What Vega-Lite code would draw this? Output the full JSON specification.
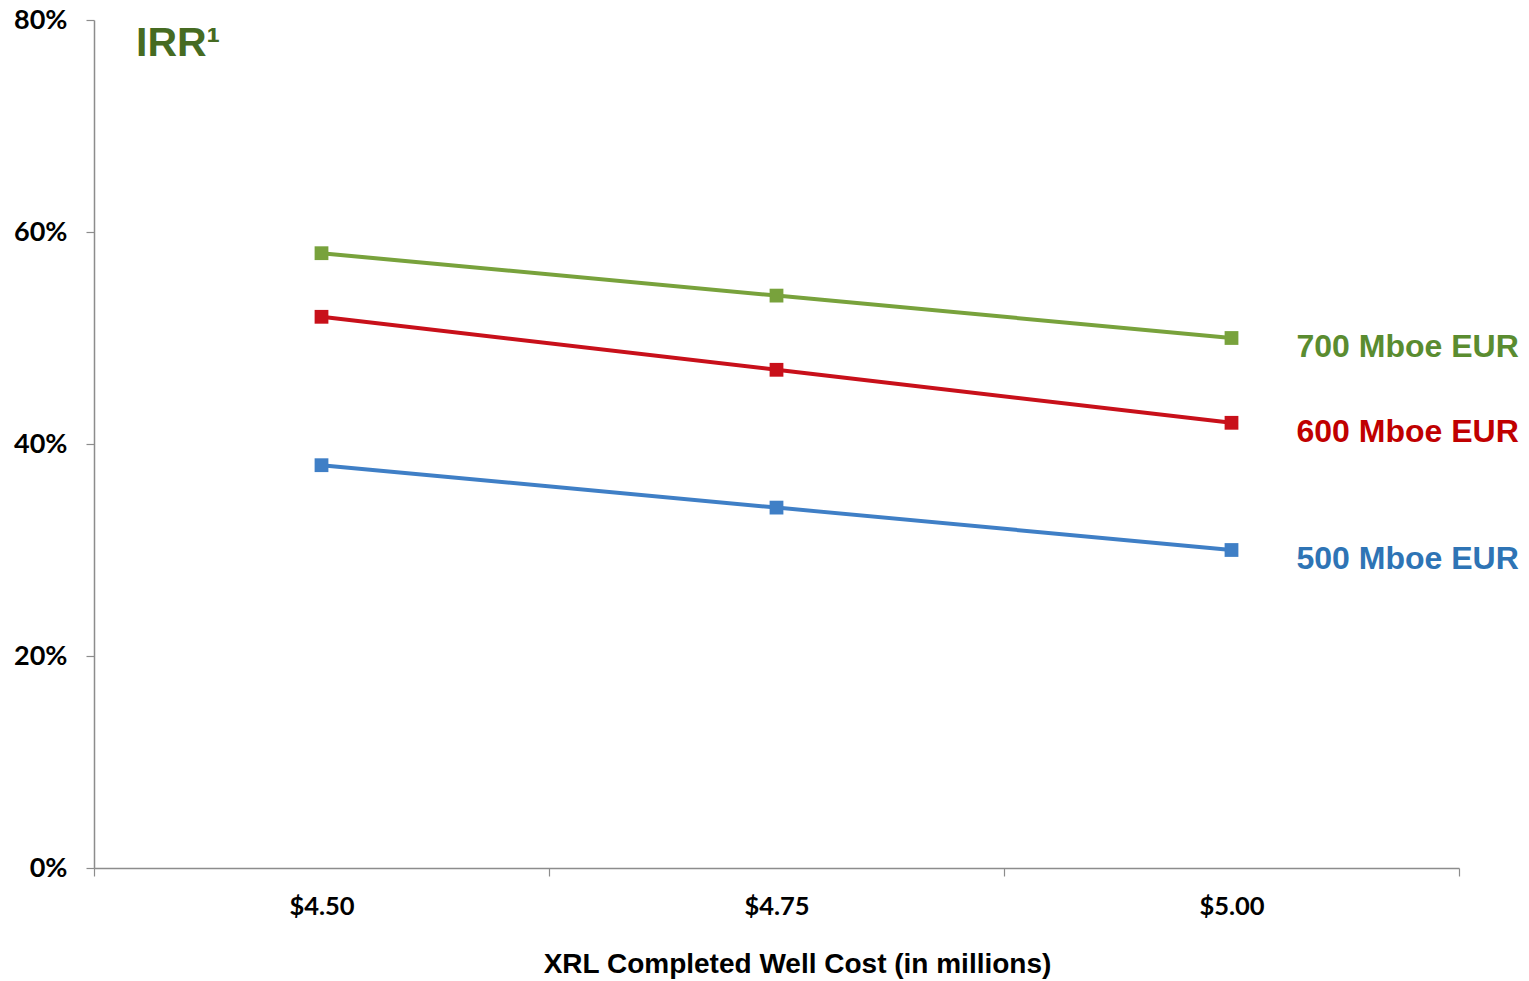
{
  "$schema": "https://vega.github.io/schema/vega-lite/v6.json",
  "autosize": {"type": "none"},
  "width": 1365,
  "height": 848,
  "padding": {"left": 94, "top": 20, "right": 70, "bottom": 113},
  "background": "white",
  "title": {
    "text": "IRR¹",
    "anchor": "start",
    "frame": "group",
    "orient": "top",
    "offset": 0,
    "baseline": "top",
    "dx": 42,
    "dy": 59,
    "font": "Liberation Sans",
    "fontSize": 41,
    "fontWeight": "bold",
    "color": "#466b22"
  },
  "config": {
    "view": {"stroke": null},
    "axis": {"grid": false, "domainColor": "#8c8c8c", "tickColor": "#8c8c8c", "domainWidth": 1.5, "tickWidth": 1.2}
  },
  "data": {
    "values": [
      {"cost": "$4.50", "eur": "700 Mboe EUR", "irr": 58},
      {"cost": "$4.75", "eur": "700 Mboe EUR", "irr": 54},
      {"cost": "$5.00", "eur": "700 Mboe EUR", "irr": 50},
      {"cost": "$4.50", "eur": "600 Mboe EUR", "irr": 52},
      {"cost": "$4.75", "eur": "600 Mboe EUR", "irr": 47},
      {"cost": "$5.00", "eur": "600 Mboe EUR", "irr": 42},
      {"cost": "$4.50", "eur": "500 Mboe EUR", "irr": 38},
      {"cost": "$4.75", "eur": "500 Mboe EUR", "irr": 34},
      {"cost": "$5.00", "eur": "500 Mboe EUR", "irr": 30}
    ]
  },
  "encoding": {
    "x": {
      "field": "cost",
      "type": "ordinal",
      "sort": ["$4.50", "$4.75", "$5.00"],
      "scale": {"type": "band", "paddingInner": 0, "paddingOuter": 0},
      "axis": {
        "title": "XRL Completed Well Cost (in millions)",
        "titleFont": "Liberation Sans",
        "titleFontSize": 28,
        "titleFontWeight": "bold",
        "titleColor": "#000000",
        "titlePadding": 31,
        "titleX": 703,
        "titleAlign": "center",
        "labelFont": "Lato",
        "labelFontSize": 25.5,
        "labelFontWeight": "bold",
        "labelColor": "#000000",
        "labelAngle": 0,
        "labelPadding": 18,
        "tickSize": 8,
        "tickBand": "extent"
      }
    },
    "y": {
      "field": "irr",
      "type": "quantitative",
      "scale": {"domain": [0, 80], "nice": false},
      "axis": {
        "title": null,
        "values": [0, 20, 40, 60, 80],
        "labelExpr": "datum.value + '%'",
        "labelFont": "Lato",
        "labelFontSize": 27,
        "labelFontWeight": "bold",
        "labelColor": "#000000",
        "labelPadding": 19,
        "tickSize": 8
      }
    }
  },
  "layer": [
    {
      "mark": {"type": "line", "strokeWidth": 4},
      "encoding": {
        "color": {
          "field": "eur",
          "type": "nominal",
          "scale": {"domain": ["700 Mboe EUR", "600 Mboe EUR", "500 Mboe EUR"], "range": ["#78a23c", "#c8101a", "#3f7fc6"]},
          "legend": null
        }
      }
    },
    {
      "mark": {"type": "point", "shape": "square", "filled": true, "size": 190, "opacity": 1},
      "encoding": {
        "color": {
          "field": "eur",
          "type": "nominal",
          "scale": {"domain": ["700 Mboe EUR", "600 Mboe EUR", "500 Mboe EUR"], "range": ["#78a23c", "#c8101a", "#3f7fc6"]},
          "legend": null
        }
      }
    },
    {
      "transform": [{"filter": "datum.cost === '$5.00'"}],
      "mark": {"type": "text", "align": "left", "baseline": "middle", "dx": 65, "dy": 9, "font": "Liberation Sans", "fontSize": 32, "fontWeight": "bold"},
      "encoding": {
        "text": {"field": "eur"},
        "color": {
          "field": "eur",
          "type": "nominal",
          "scale": {"domain": ["700 Mboe EUR", "600 Mboe EUR", "500 Mboe EUR"], "range": ["#5a8c30", "#c00000", "#2e74b5"]},
          "legend": null
        }
      }
    }
  ],
  "resolve": {"scale": {"color": "independent"}}
}
